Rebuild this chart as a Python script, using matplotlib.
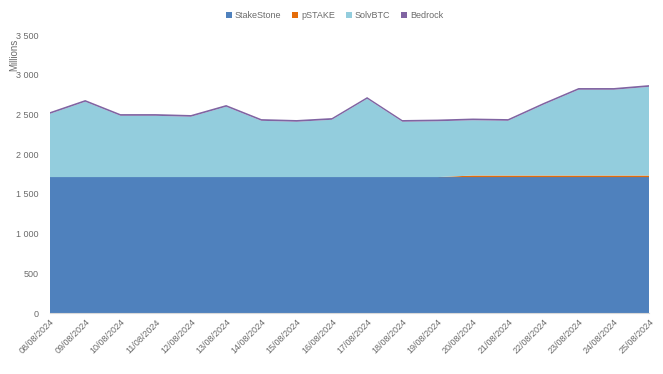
import numpy as np
import matplotlib
matplotlib.use("Agg")
import matplotlib.pyplot as plt
from matplotlib.ticker import FuncFormatter

plt.rcParams['font.family'] = ['Liberation Sans', 'DejaVu Sans']

dates = ["08/08/2024", "09/08/2024", "10/08/2024", "11/08/2024", "12/08/2024",
         "13/08/2024", "14/08/2024", "15/08/2024", "16/08/2024", "17/08/2024",
         "18/08/2024", "19/08/2024", "20/08/2024", "21/08/2024", "22/08/2024",
         "23/08/2024", "24/08/2024", "25/08/2024"]

# values in millions
stakestone = [1712] * 18
pstake = [0, 0, 0, 0, 0, 0, 0, 0, 0, 0, 0, 0, 20, 20, 20, 20, 20, 20]
bedrock = [22] * 18
solvbtc = [797, 949, 772, 772, 760, 886, 709, 697, 722, 986, 697, 703,
           696, 689, 891, 1080, 1080, 1117]

colors = ["#4F81BD", "#E46C0A", "#93CDDD", "#8064A2"]
labels = ["StakeStone", "pSTAKE", "SolvBTC", "Bedrock"]

fig = plt.figure(figsize=(6.63, 3.74), dpi=100)
ax = fig.add_axes([0.0754, 0.163, 0.9035, 0.743])

x = np.arange(len(dates))
ax.stackplot(x, stakestone, pstake, solvbtc, bedrock, colors=colors,
             labels=labels, linewidth=0)

ax.set_xlim(0, len(dates) - 1)
ax.set_ylim(0, 3500)
ax.set_yticks(np.arange(0, 3501, 500))
ax.yaxis.set_major_formatter(FuncFormatter(lambda v, p: f"{int(v):,}".replace(",", " ")))
ax.set_xticks(x)
ax.set_xticklabels(dates, rotation=45, ha="right", rotation_mode="anchor")

for s in ax.spines.values():
    s.set_visible(False)
ax.spines["bottom"].set_visible(True)
ax.spines["bottom"].set_color("#d9d9d9")
ax.tick_params(axis="both", length=0, labelsize=6.5, colors="#6b6b6b")
ax.tick_params(axis="y", pad=8)
ax.tick_params(axis="x", pad=3)

ax.set_ylabel("Millions", fontsize=7, color="#6b6b6b", labelpad=4)
ax.yaxis.set_label_coords(-0.052, 0.93)

ax.legend(loc="upper center", bbox_to_anchor=(0.475, 1.115), ncol=4, frameon=False,
          fontsize=6.5, handlelength=0.7, handleheight=0.7, handletextpad=0.3,
          columnspacing=1.2, labelcolor="#6b6b6b")

fig.savefig("out.png", dpi=100)
